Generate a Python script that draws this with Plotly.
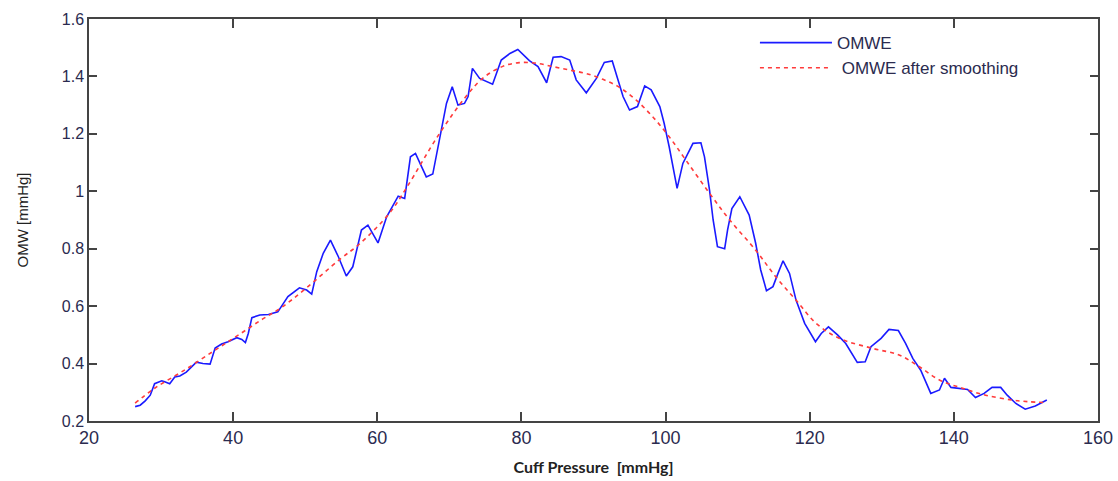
import plotly.graph_objects as go

# Raw oscillometric waveform envelope (OMWE)
pressure = [26.4, 27.1, 27.8, 28.5, 29.1, 30.1, 30.5, 31.2, 31.9, 32.6, 33.5, 34.9, 35.8, 36.8,
            37.5, 38.4, 39.3, 40.5, 41.2, 41.7, 42.1, 42.6, 43.7, 44.9, 46.2, 46.7, 47.6, 49.2,
            50.2, 50.9, 51.6, 52.5, 53.5, 54.6, 55.7, 56.6, 57.8, 58.7, 60.1, 61.3, 62.9, 63.8,
            64.6, 65.3, 66.8, 67.7, 68.7, 69.6, 70.4, 71.2, 72.1, 72.6, 73.2, 74.2,
            76.0, 77.2, 78.4, 79.5, 81.1, 82.3, 83.5, 84.4, 85.5, 86.7, 87.6, 89.0, 90.4, 91.5,
            92.6, 93.1, 94.1, 95.0, 96.1, 97.1, 98.0, 99.2, 99.8, 100.5, 101.0, 101.6, 102.4,
            103.8, 104.9, 105.4, 106.1, 106.6, 107.2, 108.2, 108.6, 109.2, 110.3, 111.6, 112.5,
            113.2, 114.0, 114.9, 115.6, 116.3, 117.2, 118.1, 119.3, 120.8, 121.6, 122.6, 123.9,
            125.0, 126.6, 127.7, 128.5, 129.9, 131.0, 132.3, 133.3, 134.3, 135.4, 136.8, 138.0,
            138.7, 139.6, 140.7, 141.9, 143.0, 144.2, 145.3, 146.5, 147.4, 148.6, 149.9, 151.3,
            152.9]
omwe = [0.25, 0.255, 0.27, 0.29, 0.33, 0.34, 0.337, 0.33, 0.353, 0.357, 0.37, 0.405, 0.40, 0.398,
        0.454, 0.468, 0.476, 0.49, 0.484, 0.473, 0.505, 0.56, 0.569, 0.571, 0.58, 0.598, 0.633, 0.664,
        0.656, 0.642, 0.72, 0.784, 0.83, 0.772, 0.705, 0.737, 0.865, 0.882, 0.82, 0.911, 0.983, 0.975,
        1.12, 1.132, 1.05, 1.06, 1.19, 1.306, 1.364, 1.30, 1.306, 1.33, 1.428, 1.393,
        1.373, 1.457, 1.48, 1.494, 1.455, 1.434, 1.378, 1.467, 1.469, 1.457, 1.388, 1.343, 1.393, 1.449,
        1.454, 1.41, 1.33, 1.283, 1.295, 1.367, 1.353, 1.295, 1.237, 1.155, 1.086, 1.01, 1.097,
        1.167, 1.169, 1.12, 1.004, 0.90, 0.807, 0.80, 0.865, 0.94, 0.981, 0.917, 0.819,
        0.726, 0.654, 0.668, 0.714, 0.758, 0.714, 0.621, 0.54, 0.476, 0.505, 0.528, 0.499,
        0.47, 0.404, 0.406, 0.459, 0.488, 0.519, 0.515, 0.47, 0.418, 0.377, 0.296, 0.308,
        0.349, 0.317, 0.314, 0.31, 0.282, 0.296, 0.317, 0.317, 0.29, 0.261, 0.241, 0.252,
        0.273]

# Smoothed envelope
pressure_smooth = [26.4, 29.1, 33.3, 37.5, 40.7, 43.9, 46.7, 50.0, 54.8, 57.6, 61.7, 64.0, 68.6,
                   72.3, 74.7, 77.4, 79.7, 82.1, 84.4, 86.7, 89.0, 91.3, 93.6, 95.9, 98.2, 100.5,
                   102.8, 106.1, 108.9, 112.5, 115.3, 118.1, 120.9, 124.1, 128.7, 132.4, 135.2,
                   138.0, 141.2, 144.4, 148.1, 150.4, 152.9]
omwe_smooth = [0.262, 0.314, 0.378, 0.447, 0.499, 0.552, 0.595, 0.66, 0.763, 0.818, 0.924, 1.01, 1.2,
               1.33, 1.395, 1.435, 1.448, 1.446, 1.434, 1.422, 1.41, 1.39, 1.362, 1.318, 1.26, 1.19,
               1.109, 0.993, 0.90, 0.795, 0.702, 0.621, 0.54, 0.488, 0.453, 0.43, 0.389,
               0.343, 0.314, 0.29, 0.273, 0.267, 0.264]

x_ticks = [20, 40, 60, 80, 100, 120, 140, 160]
y_ticks = [0.2, 0.4, 0.6, 0.8, 1.0, 1.2, 1.4, 1.6]
y_ticktext = ["0.2", "0.4", "0.6", "0.8", "1", "1.2", "1.4", "1.6"]

fig = go.Figure()
fig.add_trace(go.Scatter(x=pressure, y=omwe, mode="lines", name="OMWE",
                         line=dict(color="#1a1aff", width=1.6)))
fig.add_trace(go.Scatter(x=pressure_smooth, y=omwe_smooth, mode="lines",
                         name="\u00a0OMWE after smoothing", line_shape="spline",
                         line=dict(color="#ff3b3b", width=1.6, dash="4px,4px")))

axis_common = dict(showline=True, linecolor="#444444", linewidth=1.5, mirror="ticks",
                   ticks="inside", tickcolor="#444444", tickwidth=1.5, showgrid=False,
                   zeroline=False, automargin=False)

fig.update_xaxes(range=[20, 160], tickvals=x_ticks, ticklen=9, **axis_common,
                 tickfont=dict(family="Liberation Sans Narrow, Liberation Sans, Arial", size=18,
                               color="#2b2b4f"),
                 title=dict(text="Cuff Pressure  [mmHg]", standoff=14,
                            font=dict(family="Lato, Open Sans", size=16, color="#222222",
                                      weight="bold")))
fig.update_yaxes(range=[0.2, 1.6], tickvals=y_ticks, ticktext=y_ticktext, ticklen=8,
                 **axis_common,
                 tickfont=dict(family="Liberation Sans, Arial", size=16, color="#2b2b4f"),
                 title=dict(text="OMW [mmHg]", standoff=30,
                            font=dict(family="Liberation Sans, Arial", size=15, color="#222222")))

fig.update_layout(
    width=1118, height=481,
    margin=dict(l=89, r=20, t=19, b=60),
    paper_bgcolor="white", plot_bgcolor="white",
    showlegend=True,
    legend=dict(x=0.66, y=0.985, xanchor="left", yanchor="top",
                bgcolor="rgba(0,0,0,0)", borderwidth=0, itemwidth=72,
                font=dict(family="Liberation Sans, Arial", size=17, color="#2b2b4f"),
                tracegroupgap=0),
)

fig.write_html("out.html")
